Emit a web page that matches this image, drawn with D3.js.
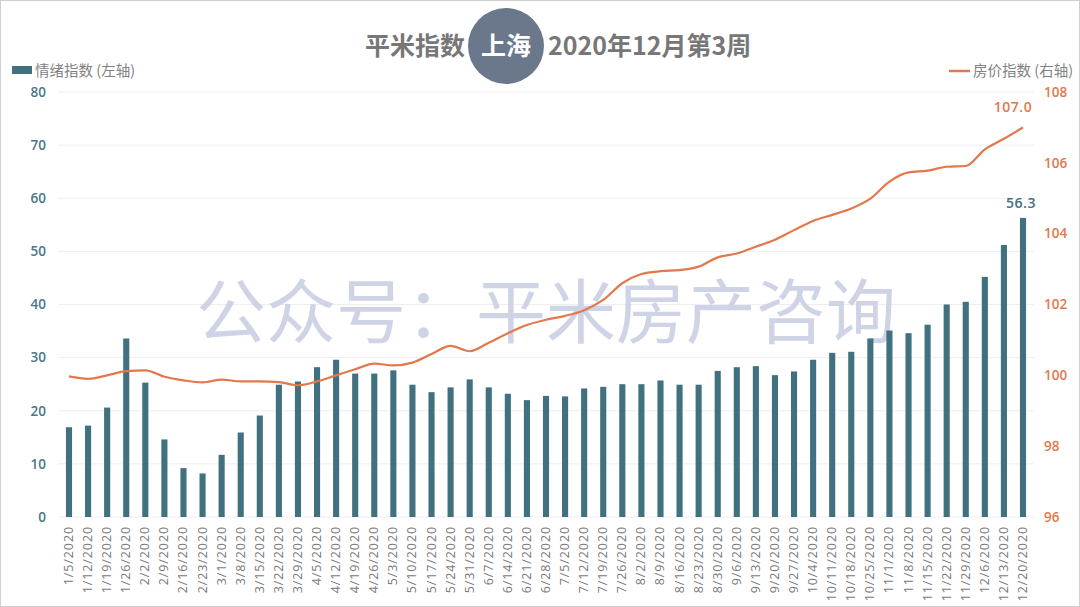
<!DOCTYPE html>
<html>
<head>
<meta charset="utf-8">
<script src="https://cdn.jsdelivr.net/npm/d3@7"></script>
<style>
  html, body { margin: 0; padding: 0; background: #fff; }
  svg { display: block; font-family: "Open Sans", "Noto Sans CJK SC", sans-serif; }
</style>
</head>
<body>
<svg id="chart"></svg>
<script>
// set svg params

var svgWidth = 1080, svgHeight = 607;

// data

var weeks = ["1/5/2020","1/12/2020","1/19/2020","1/26/2020","2/2/2020","2/9/2020","2/16/2020","2/23/2020",
  "3/1/2020","3/8/2020","3/15/2020","3/22/2020","3/29/2020","4/5/2020","4/12/2020","4/19/2020","4/26/2020",
  "5/3/2020","5/10/2020","5/17/2020","5/24/2020","5/31/2020","6/7/2020","6/14/2020","6/21/2020","6/28/2020",
  "7/5/2020","7/12/2020","7/19/2020","7/26/2020","8/2/2020","8/9/2020","8/16/2020","8/23/2020","8/30/2020",
  "9/6/2020","9/13/2020","9/20/2020","9/27/2020","10/4/2020","10/11/2020","10/18/2020","10/25/2020",
  "11/1/2020","11/8/2020","11/15/2020","11/22/2020","11/29/2020","12/6/2020","12/13/2020","12/20/2020"];

var moodIndex = [16.9,17.2,20.6,33.6,25.3,14.6,9.2,8.2,
  11.7,15.9,19.1,24.9,25.5,28.2,29.6,27.0,27.0,
  27.6,24.9,23.5,24.4,25.9,24.4,23.2,22.0,22.8,
  22.7,24.2,24.5,25.0,25.0,25.7,24.9,24.9,27.5,
  28.2,28.4,26.7,27.4,29.6,30.9,31.1,33.6,
  35.1,34.6,36.2,40.0,40.5,45.2,51.2,56.3];

var priceIndex = [99.97,99.90,100.00,100.12,100.14,99.96,99.86,99.80,
  99.88,99.83,99.83,99.81,99.72,99.83,100.00,100.17,100.33,
  100.28,100.36,100.60,100.83,100.68,100.92,101.19,101.42,101.57,
  101.68,101.84,102.13,102.60,102.86,102.94,102.97,103.07,103.33,
  103.44,103.63,103.83,104.10,104.36,104.53,104.71,104.99,
  105.47,105.73,105.78,105.89,105.91,106.38,106.68,107.00];

var leftTicks = [0,10,20,30,40,50,60,70,80];
var rightTicks = [96,98,100,102,104,106,108];

var titleLeft = "平米指数", titleCity = "上海", titleRight = "2020年12月第3周";
var legendMood = "情绪指数 (左轴)", legendPrice = "房价指数 (右轴)";
var watermark = "公众号：平米房产咨询";

// colours

var barColor = "#41707f", lineColor = "#e2784b", gridColor = "#eeeeee";

// scales

var plotTop = 92, plotBottom = 517;

var xScale = d3.scalePoint()
  .domain(weeks)
  .range([69, 1023]);

var barWidth = xScale.step() * 0.32;

var yLeft = d3.scaleLinear()
  .domain([0, 80])
  .range([plotBottom, plotTop]);

var yRight = d3.scaleLinear()
  .domain([96, 108])
  .range([plotBottom, plotTop]);

var svg = d3.select("#chart")
  .attr("width", svgWidth)
  .attr("height", svgHeight);

// frame

svg.append("rect")
  .attr("x", 0.5).attr("y", 0.5)
  .attr("width", svgWidth - 1).attr("height", svgHeight - 1)
  .attr("fill", "#fff")
  .attr("stroke", "#cfcfcf");

// grid

svg.append("g")
  .selectAll("line")
  .data(leftTicks)
  .enter()
  .append("line")
  .attr("x1", 58).attr("x2", 1034)
  .attr("y1", function (d) { return yLeft(d); })
  .attr("y2", function (d) { return yLeft(d); })
  .attr("stroke", gridColor)
  .attr("stroke-width", 1);

// left axis

var leftAxis = d3.axisLeft(yLeft).tickValues(leftTicks).tickSize(0).tickPadding(0);
var gl = svg.append("g").attr("transform", "translate(46,0)").call(leftAxis);
gl.select(".domain").remove();
gl.selectAll("text")
  .attr("fill", "#4a7788")
  .style("font-size", "13.5px")
  .style("font-weight", "600")
  .style("font-family", "Open Sans, sans-serif");

// right axis

var rightAxis = d3.axisRight(yRight).tickValues(rightTicks).tickSize(0).tickPadding(0);
var gr = svg.append("g").attr("transform", "translate(1044,0)").call(rightAxis);
gr.select(".domain").remove();
gr.selectAll("text")
  .attr("fill", lineColor)
  .style("font-size", "13.5px")
  .style("font-weight", "600")
  .style("font-family", "Open Sans, sans-serif");

// watermark

svg.append("text")
  .attr("x", 546).attr("y", 338)
  .attr("text-anchor", "middle")
  .attr("fill", "#c6cde2")
  .attr("fill-opacity", 0.85)
  .style("font-family", "Noto Sans CJK SC")
  .style("font-size", "70px")
  .text(watermark);

// bars

svg.append("g")
  .selectAll("rect")
  .data(moodIndex)
  .enter()
  .append("rect")
  .attr("x", function (d, i) { return xScale(weeks[i]) - barWidth / 2; })
  .attr("y", function (d) { return yLeft(d); })
  .attr("width", barWidth)
  .attr("height", function (d) { return plotBottom - yLeft(d); })
  .attr("fill", barColor);

// line

var line = d3.line()
  .x(function (d, i) { return xScale(weeks[i]); })
  .y(function (d) { return yRight(d); })
  .curve(d3.curveMonotoneX);

svg.append("path")
  .datum(priceIndex)
  .attr("d", line)
  .attr("fill", "none")
  .attr("stroke", lineColor)
  .attr("stroke-width", 2.2);

// end labels

var last = weeks.length - 1;

svg.append("text")
  .attr("x", xScale(weeks[last]) - 2)
  .attr("y", yLeft(moodIndex[last]) - 10)
  .attr("text-anchor", "middle")
  .attr("fill", "#3f6f80")
  .style("font-size", "14px")
  .style("font-weight", "600")
  .style("letter-spacing", "0.5px")
  .text(moodIndex[last].toFixed(1));

svg.append("text")
  .attr("x", xScale(weeks[last]) - 10)
  .attr("y", yRight(priceIndex[last]) - 15)
  .attr("text-anchor", "middle")
  .attr("fill", lineColor)
  .style("font-size", "14px")
  .style("font-weight", "600")
  .style("letter-spacing", "0.5px")
  .text(priceIndex[last].toFixed(1));

// x labels

svg.append("g")
  .selectAll("text")
  .data(weeks)
  .enter()
  .append("text")
  .attr("transform", function (d) { return "translate(" + (xScale(d) + 4) + ",526) rotate(-90)"; })
  .attr("text-anchor", "end")
  .attr("fill", "#7a7a7a")
  .style("font-size", "12.5px")
  .style("letter-spacing", "0.9px")
  .text(function (d) { return d; });

// legends

svg.append("rect")
  .attr("x", 12).attr("y", 66)
  .attr("width", 20).attr("height", 8)
  .attr("fill", barColor);

svg.append("text")
  .attr("x", 35).attr("y", 76)
  .attr("fill", "#828282")
  .style("font-family", "Noto Sans CJK SC")
  .style("font-size", "14.5px")
  .text(legendMood);

svg.append("line")
  .attr("x1", 949).attr("x2", 970)
  .attr("y1", 71).attr("y2", 71)
  .attr("stroke", lineColor)
  .attr("stroke-width", 2.5);

svg.append("text")
  .attr("x", 973).attr("y", 76)
  .attr("fill", "#828282")
  .style("font-family", "Noto Sans CJK SC")
  .style("font-size", "14.5px")
  .text(legendPrice);

// title

svg.append("circle")
  .attr("cx", 506).attr("cy", 46).attr("r", 38)
  .attr("fill", "#6b788b");

svg.append("text")
  .attr("x", 465).attr("y", 55)
  .attr("text-anchor", "end")
  .attr("fill", "#777777")
  .style("font-family", "Noto Sans CJK SC")
  .style("font-size", "25px")
  .style("font-weight", "bold")
  .text(titleLeft);

svg.append("text")
  .attr("x", 506).attr("y", 55)
  .attr("text-anchor", "middle")
  .attr("fill", "#ffffff")
  .style("font-family", "Noto Sans CJK SC")
  .style("font-size", "25px")
  .style("font-weight", "bold")
  .text(titleCity);

svg.append("text")
  .attr("x", 548).attr("y", 55)
  .attr("fill", "#777777")
  .style("font-family", "Noto Sans CJK SC")
  .style("font-size", "25px")
  .style("font-weight", "bold")
  .text(titleRight);
</script>
</body>
</html>
